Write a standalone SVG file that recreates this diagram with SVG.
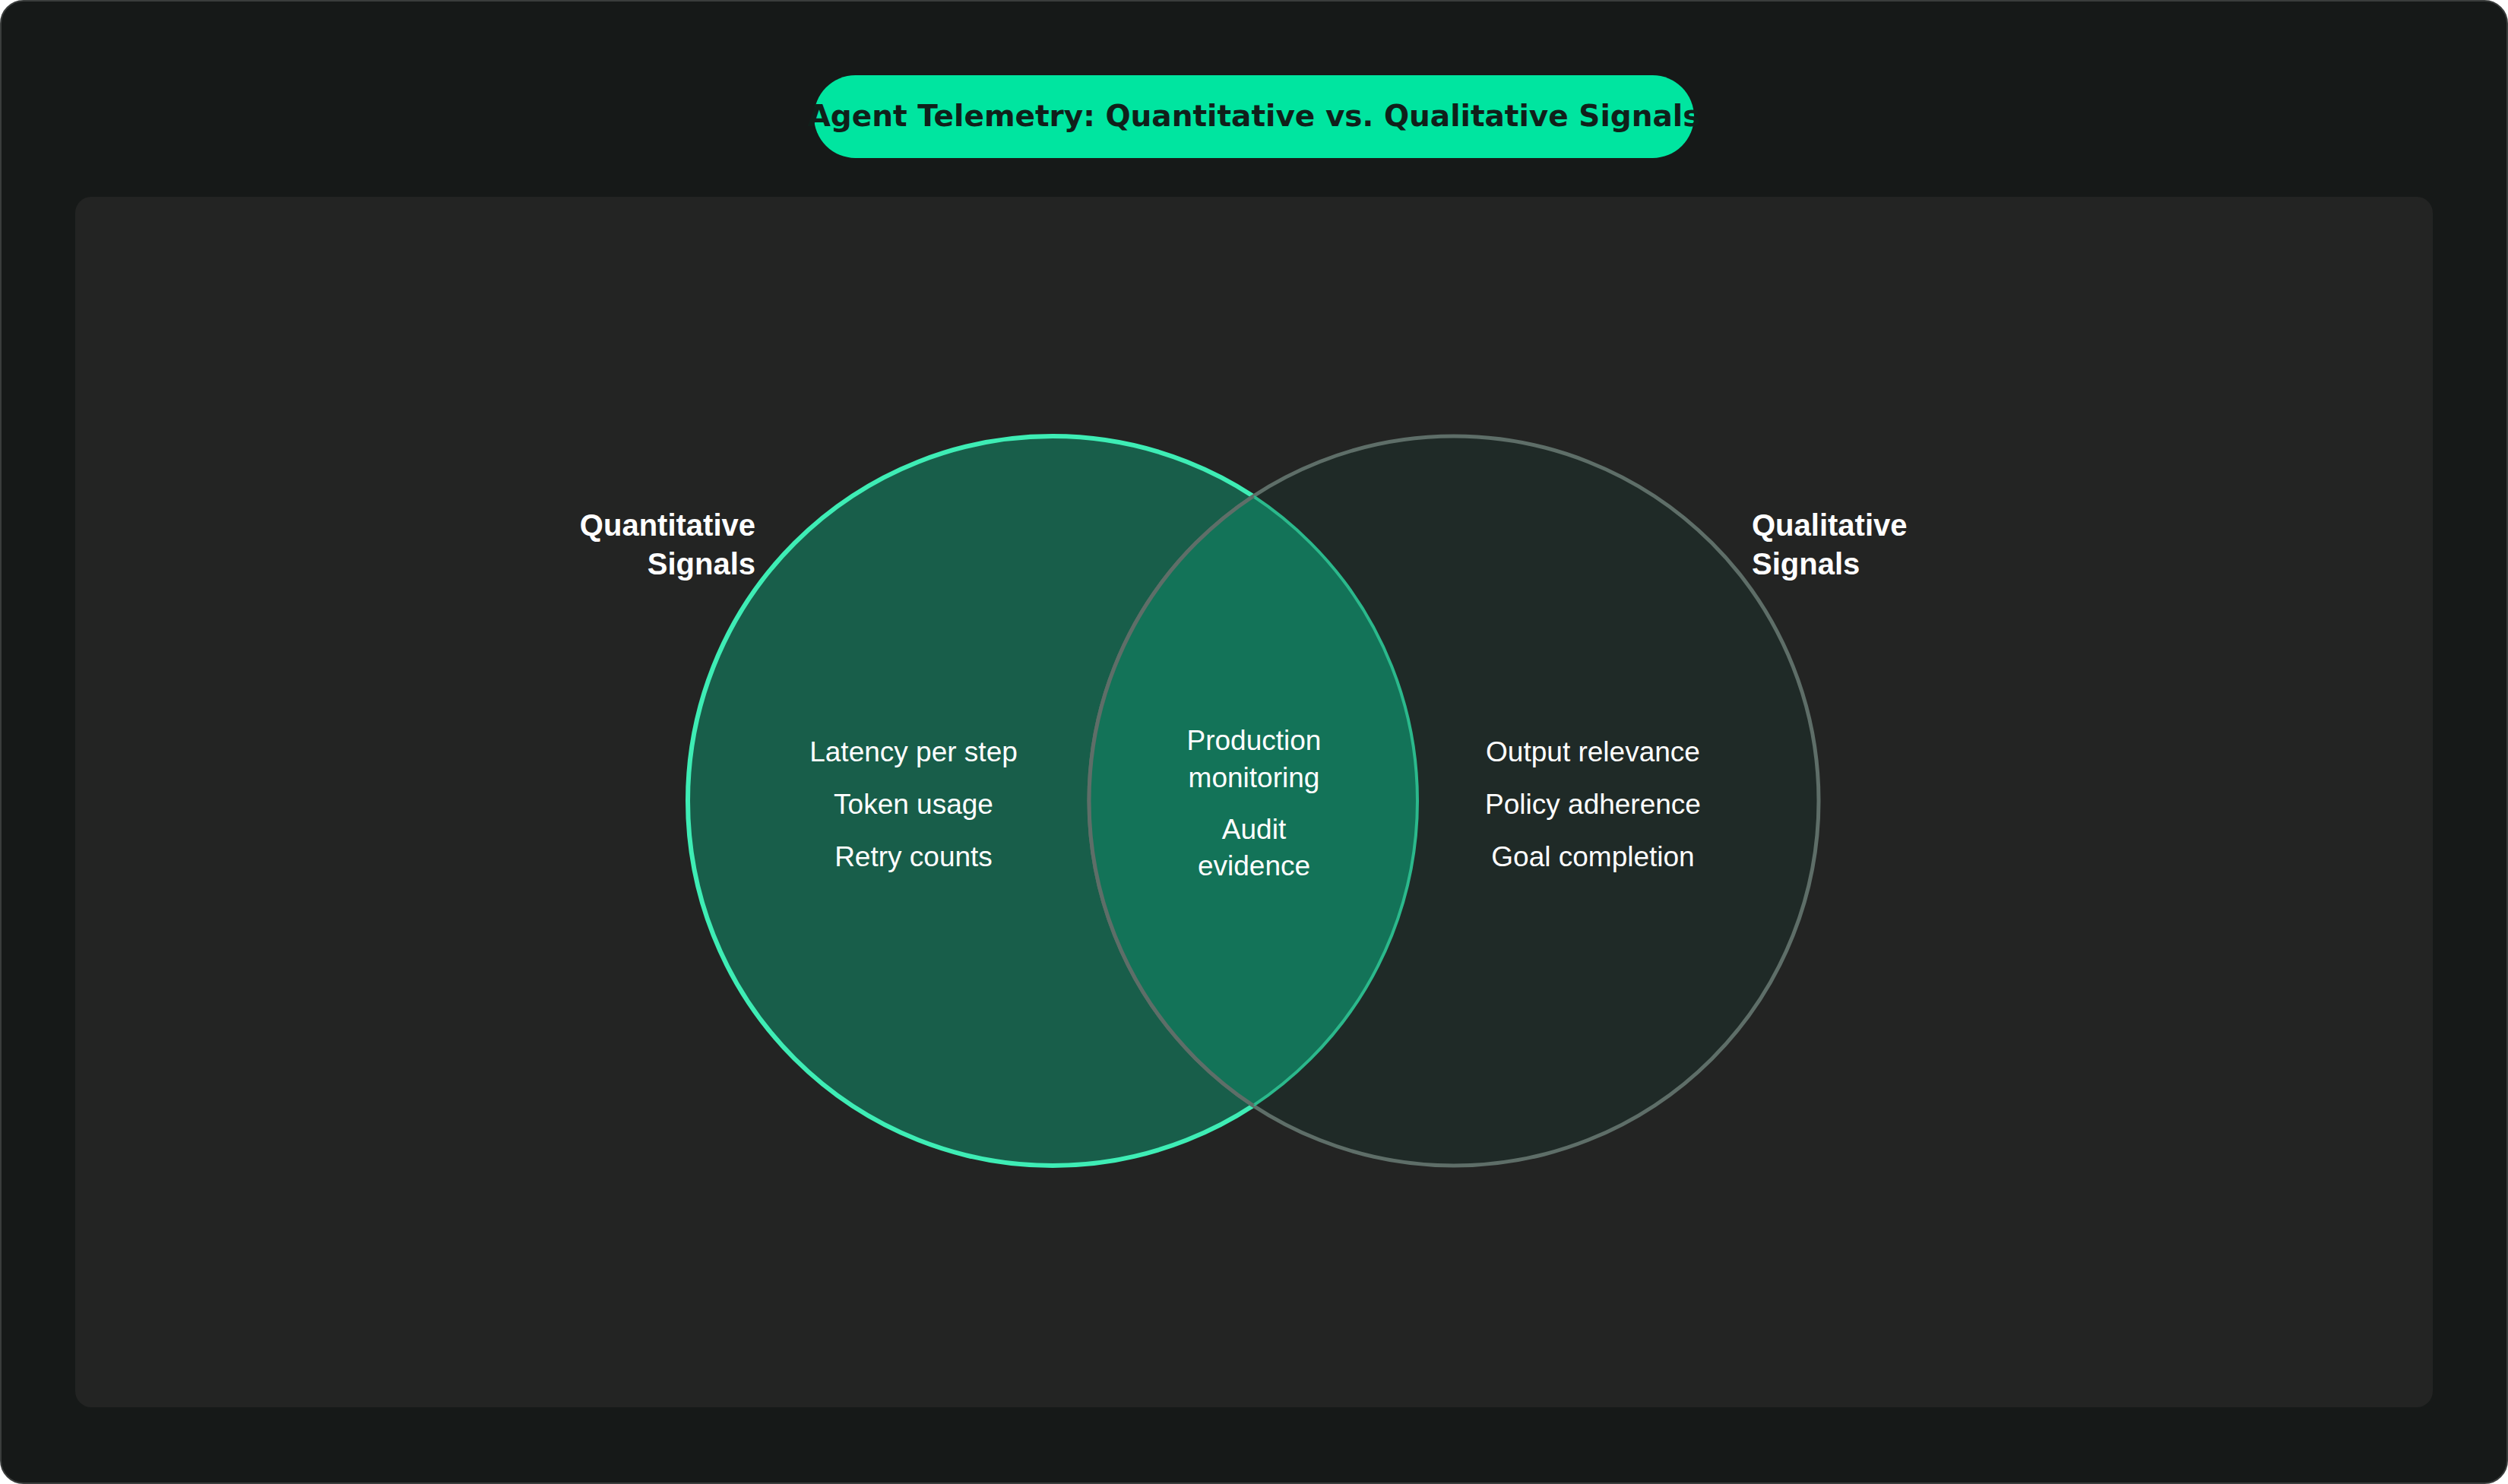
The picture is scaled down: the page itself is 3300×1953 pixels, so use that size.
<svg xmlns="http://www.w3.org/2000/svg" width="3300" height="1953" viewBox="0 0 3300 1953">
<defs>
<style>
.lbl{font-family:"Liberation Sans",Arial,sans-serif;font-weight:bold;font-size:40px;fill:#ffffff}
.item{font-family:"Liberation Sans",Arial,sans-serif;font-size:37px;fill:#ffffff;text-anchor:middle}
</style>
<clipPath id="cl"><circle cx="1385" cy="1054" r="480"/></clipPath>
</defs>
<rect x="1" y="1" width="3298" height="1951" rx="30" fill="#161918" stroke="#3a3d3c" stroke-width="2"/>
<rect x="99" y="259" width="3102" height="1593" rx="21" fill="#232423"/>
<g id="title">
<rect x="1071" y="99" width="1158" height="109" rx="54.5" fill="#00E5A0"/>
<text x="1650" y="166" text-anchor="middle" font-family="DejaVu Sans,sans-serif" font-weight="bold" font-size="39" fill="#10201a">Agent Telemetry: Quantitative vs. Qualitative Signals</text>
</g>
<g id="quantitative">
<circle cx="1385" cy="1054" r="480" fill="#185E4A" stroke="#3EEDB5" stroke-width="6"/>
</g>
<g id="qualitative">
<circle cx="1913" cy="1054" r="480" fill="#1F2A27" stroke="#5E6E68" stroke-width="5"/>
</g>
<g id="overlap">
<circle cx="1913" cy="1054" r="480" fill="#137358" clip-path="url(#cl)"/>
<circle cx="1385" cy="1054" r="480" fill="none" stroke="#2BB98C" stroke-width="4" clip-path="url(#cr)"/>
<circle cx="1913" cy="1054" r="480" fill="none" stroke="#5E6E68" stroke-width="5" clip-path="url(#cl)"/>
</g>
<defs><clipPath id="cr"><circle cx="1913" cy="1054" r="480"/></clipPath></defs>
<g id="labels">
<text class="lbl" x="994" y="705" text-anchor="end">Quantitative</text>
<text class="lbl" x="994" y="756" text-anchor="end">Signals</text>
<text class="lbl" x="2305" y="705">Qualitative</text>
<text class="lbl" x="2305" y="756">Signals</text>
</g>
<g id="left-items">
<text class="item" x="1202" y="1002">Latency per step</text>
<text class="item" x="1202" y="1071">Token usage</text>
<text class="item" x="1202" y="1140">Retry counts</text>
</g>
<g id="center-items">
<text class="item" x="1650" y="987">Production</text>
<text class="item" x="1650" y="1036">monitoring</text>
<text class="item" x="1650" y="1104">Audit</text>
<text class="item" x="1650" y="1152">evidence</text>
</g>
<g id="right-items">
<text class="item" x="2096" y="1002">Output relevance</text>
<text class="item" x="2096" y="1071">Policy adherence</text>
<text class="item" x="2096" y="1140">Goal completion</text>
</g>
</svg>
